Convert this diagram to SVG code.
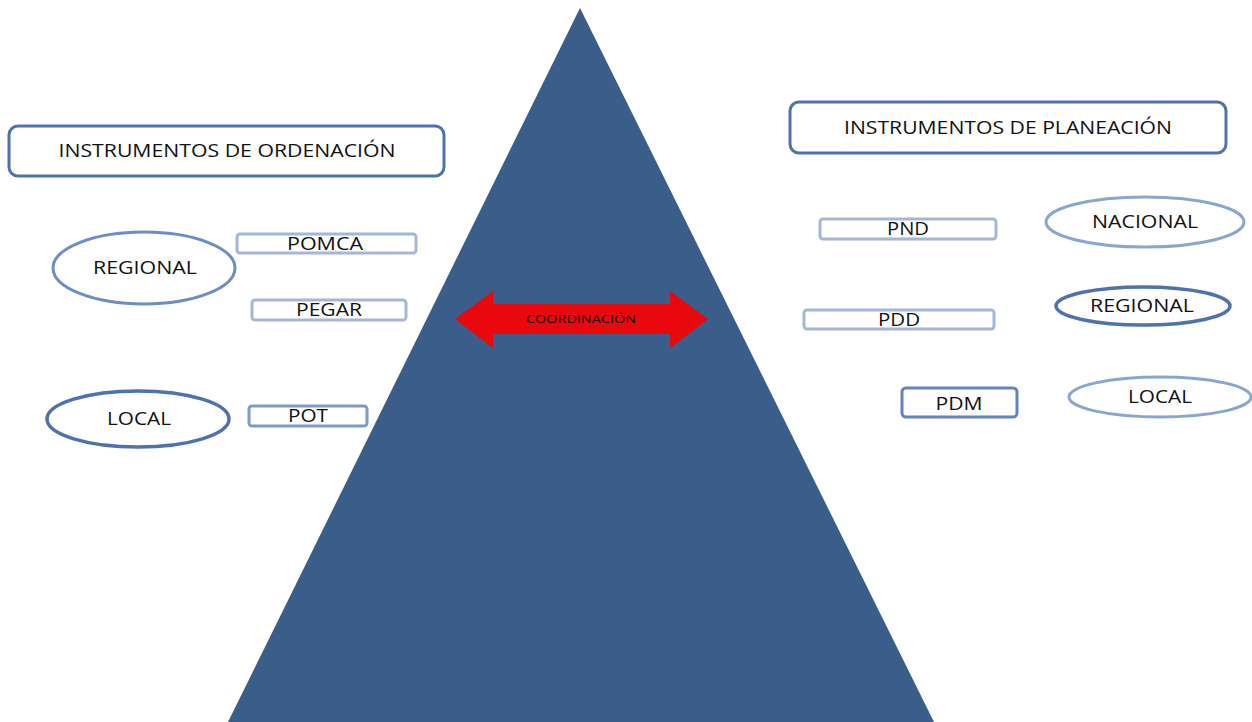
<svg xmlns="http://www.w3.org/2000/svg" width="1252" height="722" viewBox="0 0 1252 722">
<style>
text{font-family:"Open Sans","Liberation Sans",sans-serif;fill:#111;text-anchor:middle}
.hdr{fill:#fff;stroke:#4f72ad;stroke-width:3}
.lbl{font-size:18px}
.inst{fill:#fff;stroke:#a4b6da;stroke-width:3}
.inst2{fill:#fff;stroke:#7f99c9;stroke-width:3}
.inst3{fill:#fff;stroke:#6283bc;stroke-width:3}
.ell{fill:#fff;stroke:#6d8ec5;stroke-width:3}
.ell2{fill:#fff;stroke:#8ba5d2;stroke-width:3}
.ell3{fill:#fff;stroke:#4f72ad;stroke-width:3.5}
</style>
<rect width="1252" height="722" fill="#fff"/>
<g id="piramide">
<polygon points="580,8 934,722 228,722" fill="#3a5d8a"/>
</g>
<g id="connectors">
<polygon points="455,319 493,291 493,304 670,304 670,291 708,319 670,348 670,334 493,334 493,348" fill="#e8080e"/>
<text x="581" y="323" font-size="11" textLength="110" lengthAdjust="spacingAndGlyphs">COORDINACIÓN</text>
</g>
<g id="ordenacion">
<rect class="hdr" x="9" y="126" width="435" height="50" rx="9"/>
<text class="lbl" x="227" y="157" textLength="337" lengthAdjust="spacingAndGlyphs">INSTRUMENTOS DE ORDENACIÓN</text>
</g>
<g id="planeacion">
<rect class="hdr" x="790" y="102" width="436" height="51" rx="9"/>
<text class="lbl" x="1008" y="134" textLength="328" lengthAdjust="spacingAndGlyphs">INSTRUMENTOS DE PLANEACIÓN</text>
</g>
<g id="regional-izq">
<ellipse class="ell" cx="144" cy="268" rx="91" ry="36"/>
<text class="lbl" x="145" y="274" textLength="104" lengthAdjust="spacingAndGlyphs">REGIONAL</text>
</g>
<g id="local-izq">
<ellipse class="ell3" cx="138" cy="419" rx="91" ry="28"/>
<text class="lbl" x="139" y="425" textLength="64" lengthAdjust="spacingAndGlyphs">LOCAL</text>
</g>
<g id="pomca">
<rect class="inst" x="237" y="234" width="179" height="19" rx="3"/>
<text class="lbl" x="325" y="250" textLength="76" lengthAdjust="spacingAndGlyphs">POMCA</text>
</g>
<g id="pegar">
<rect class="inst" x="252" y="300" width="154" height="20" rx="3"/>
<text class="lbl" x="329" y="316" textLength="66" lengthAdjust="spacingAndGlyphs">PEGAR</text>
</g>
<g id="pot">
<rect class="inst2" x="249" y="406" width="118" height="20" rx="3"/>
<text class="lbl" x="308" y="422" textLength="40" lengthAdjust="spacingAndGlyphs">POT</text>
</g>
<g id="pnd">
<rect class="inst" x="820" y="219" width="176" height="20" rx="3"/>
<text class="lbl" x="908" y="235" textLength="42" lengthAdjust="spacingAndGlyphs">PND</text>
</g>
<g id="pdd">
<rect class="inst" x="804" y="310" width="190" height="19" rx="3"/>
<text class="lbl" x="899" y="326" textLength="42" lengthAdjust="spacingAndGlyphs">PDD</text>
</g>
<g id="pdm">
<rect class="inst3" x="902" y="388" width="115" height="29" rx="4"/>
<text class="lbl" x="959" y="410" textLength="47" lengthAdjust="spacingAndGlyphs">PDM</text>
</g>
<g id="nacional">
<ellipse class="ell2" cx="1145" cy="222" rx="99" ry="25"/>
<text class="lbl" x="1145" y="228" textLength="106" lengthAdjust="spacingAndGlyphs">NACIONAL</text>
</g>
<g id="regional-der">
<ellipse class="ell3" cx="1143" cy="306" rx="87" ry="19"/>
<text class="lbl" x="1142" y="312" textLength="104" lengthAdjust="spacingAndGlyphs">REGIONAL</text>
</g>
<g id="local-der">
<ellipse class="ell2" cx="1160" cy="397" rx="91" ry="20"/>
<text class="lbl" x="1160" y="403" textLength="64" lengthAdjust="spacingAndGlyphs">LOCAL</text>
</g>
</svg>
